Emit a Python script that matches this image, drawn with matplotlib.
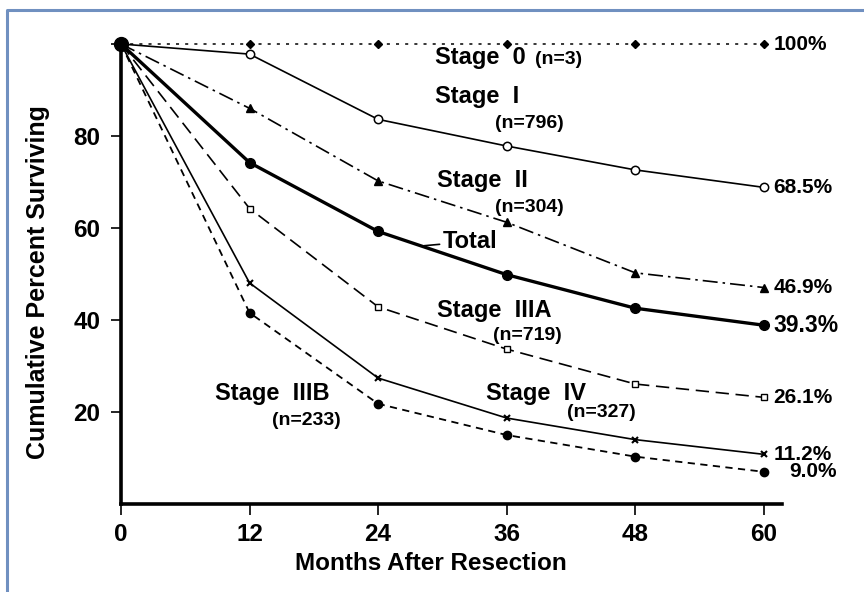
import matplotlib

matplotlib.use("Agg")
import matplotlib.pyplot as plt  # noqa: E402
from matplotlib.lines import Line2D  # noqa: E402

plt.rcParams["font.family"] = ["Liberation Sans", "DejaVu Sans"]
plt.rcParams["font.weight"] = "bold"

months = [0, 12, 24, 36, 48, 60]

stage0 = [100, 100, 100, 100, 100, 100]
stage1 = [100, 97.8, 83.6, 77.8, 72.6, 68.8]
stage2 = [100, 86.0, 70.2, 61.2, 50.2, 47.0]
total = [100, 74.2, 59.2, 49.8, 42.5, 38.8]
stage3a = [100, 64.2, 42.8, 33.6, 26.0, 23.1]
stage4 = [100, 48.0, 27.3, 18.6, 13.9, 10.7]
stage3b = [100, 41.5, 21.7, 14.9, 10.2, 6.9]

end_labels = ["100%", "68.5%", "46.9%", "39.3%", "26.1%", "11.2%", "9.0%"]

fig = plt.figure(figsize=(8.64, 5.92), dpi=100)
ax = fig.add_axes([121 / 864, 1 - 503.5 / 592, 661 / 864, 459.5 / 592])

kw = dict(color="black", clip_on=False)
ax.plot(months, stage0, ls=(0, (2, 4)), lw=1.1, marker="D", ms=4.5, **kw)
ax.plot(months, stage1, ls="-", lw=1.2, marker="o", ms=6, mfc="white", mew=1.1, **kw)
ax.plot(months, stage2, ls=(0, (9, 3, 1.5, 3)), lw=1.2, marker="^", ms=6, **kw)
ax.plot(months, total, ls="-", lw=2.4, marker="o", ms=7, **kw)
ax.plot(months, stage3a, ls=(0, (8, 4)), lw=1.2, marker="s", ms=5, mfc="white", mew=1, **kw)
ax.plot(months, stage4, ls="-", lw=1.2, marker="x", ms=5, mew=1.5, **kw)
ax.plot(months, stage3b, ls=(0, (4, 3)), lw=1.3, marker="o", ms=6, **kw)
# big blob at the common origin
ax.plot(months[0], total[0], marker="o", ms=10, color="black", clip_on=False)

series = [stage0, stage1, stage2, total, stage3a, stage4, stage3b]
for s, lab in zip(series, end_labels):
    dx = 2.4 if lab == "9.0%" else 0.9
    size = 16.5 if lab == "39.3%" else 15
    ax.text(60 + dx, s[-1], lab, fontsize=size, fontweight="bold", va="center",
            ha="left", clip_on=False)

big = dict(fontsize=17, fontweight="bold", va="center", ha="left")
small = dict(fontsize=14, fontweight="bold", va="center", ha="left")
ax.text(29.3, 97.0, "Stage  0", **big)
ax.text(38.6, 96.6, "(n=3)", **small)
ax.text(29.3, 88.5, "Stage  I", **big)
ax.text(34.9, 82.6, "(n=796)", **small)
ax.text(29.5, 70.2, "Stage  II", **big)
ax.text(34.9, 64.5, "(n=304)", **small)
ax.text(29.5, 42.1, "Stage  IIIA", **big)
ax.text(34.7, 36.5, "(n=719)", **small)
ax.text(8.8, 24.0, "Stage  IIIB", **big)
ax.text(14.1, 18.0, "(n=233)", **small)
ax.text(34.1, 24.0, "Stage  IV", **big)
ax.text(41.6, 19.7, "(n=327)", **small)
ax.annotate("Total", xy=(28.3, 56.1), xytext=(30.0, 57.0), fontsize=17,
            fontweight="bold", va="center", ha="left",
            arrowprops=dict(arrowstyle="-", color="black", lw=1.2,
                            shrinkA=0, shrinkB=0))

ax.set_xlim(0, 61.7)
ax.set_ylim(0, 100)
ax.set_xticks(months)
ax.set_xticklabels([str(m) for m in months])
ax.set_yticks([20, 40, 60, 80, 100])
ax.set_yticklabels(["20", "40", "60", "80", ""])
for side in ("top", "right"):
    ax.spines[side].set_visible(False)
for side in ("left", "bottom"):
    ax.spines[side].set_linewidth(2.6)
ax.tick_params(axis="y", length=7, width=1.2, pad=8, labelsize=17.5)
ax.tick_params(axis="x", length=8, width=1.2, pad=6, labelsize=17.5)
for t in ax.get_xticklabels() + ax.get_yticklabels():
    t.set_fontweight("bold")

ax.set_xlabel("Months After Resection", fontsize=17.5, fontweight="bold")
ax.set_ylabel("Cumulative Percent Surviving", fontsize=18, fontweight="bold")
ax.xaxis.set_label_coords(0.469, -0.105)
ax.yaxis.set_label_coords(-0.107, 0.482)

# light blue frame around the scanned figure
fig.add_artist(Line2D([7 / 864, 7 / 864, 1.0], [0.0, 1 - 10 / 592, 1 - 10 / 592],
                      transform=fig.transFigure, color="#7090c0", lw=2.2))

fig.savefig("out.png", dpi=100, facecolor="white")
